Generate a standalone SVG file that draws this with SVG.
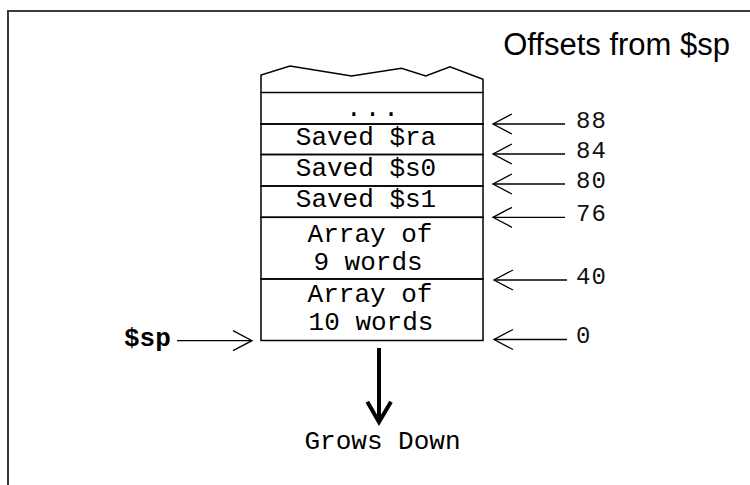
<svg xmlns="http://www.w3.org/2000/svg" width="750" height="485" viewBox="0 0 750 485">
  <style>
    .frame { fill: none; stroke: #3a3a3a; stroke-width: 2; }
    .cell { fill: none; stroke: #000; stroke-width: 1.5; }
    .mono { font-family: "Liberation Mono", "DejaVu Sans Mono", monospace; font-size: 26px; fill: #000; }
    .off { font-family: "Liberation Mono", "DejaVu Sans Mono", monospace; font-size: 24px; fill: #111; letter-spacing: 1px; }
    .title { font-family: "Liberation Sans", Arial, sans-serif; font-size: 31px; fill: #000; }
    .ptr { fill: none; stroke: #000; stroke-width: 1.3; }
  </style>
  <defs>
    <marker id="openHead" markerUnits="userSpaceOnUse" markerWidth="30" markerHeight="30" refX="0" refY="0" orient="auto" overflow="visible">
      <path d="M -19 -10 L 0 0 L -19 10" fill="none" stroke="#000" stroke-width="1.3"/>
    </marker>
  </defs>

  <rect width="750" height="485" fill="#fff"/>
  <rect class="frame" x="8" y="11" width="800" height="600"/>

  <text id="title" class="title" x="730" y="55" text-anchor="end">Offsets from $sp</text>

  <!-- stack frame cells -->
  <g id="stack-top">
    <path class="cell" d="M261 92.5 V75 L290 66 L351.5 76 L401.5 68.3 L425.7 76 L450 66.7 L483 79.3 V92.5"/>
  </g>
  <g id="cell-more">
    <rect class="cell" x="261" y="92.5" width="222" height="31.5"/>
    <text class="mono" x="374" y="116" text-anchor="middle" letter-spacing="3">...</text>
  </g>
  <g id="cell-ra">
    <rect class="cell" x="261" y="124" width="222" height="30.5"/>
    <text class="mono" x="366" y="144.5" text-anchor="middle">Saved $ra</text>
  </g>
  <g id="cell-s0">
    <rect class="cell" x="261" y="154.5" width="222" height="31.5"/>
    <text class="mono" x="366" y="175.5" text-anchor="middle">Saved $s0</text>
  </g>
  <g id="cell-s1">
    <rect class="cell" x="261" y="186" width="222" height="31.3"/>
    <text class="mono" x="366" y="206.5" text-anchor="middle">Saved $s1</text>
  </g>
  <g id="cell-array9">
    <rect class="cell" x="261" y="217.3" width="222" height="61.7"/>
    <text class="mono" x="370" y="241.5" text-anchor="middle">Array of</text>
    <text class="mono" x="368" y="269.5" text-anchor="middle">9 words</text>
  </g>
  <g id="cell-array10">
    <rect class="cell" x="261" y="279" width="222" height="61.5"/>
    <text class="mono" x="370" y="302" text-anchor="middle">Array of</text>
    <text class="mono" x="371" y="330" text-anchor="middle">10 words</text>
  </g>

  <!-- offset labels -->
  <g id="offsets">
    <text class="off" x="576" y="127.5">88</text>
    <text class="off" x="576" y="157.5">84</text>
    <text class="off" x="576" y="187.5">80</text>
    <text class="off" x="576" y="220.5">76</text>
    <text class="off" x="576" y="283.5">40</text>
    <text class="off" x="576" y="343">0</text>
  </g>

  <g id="sp-label">
    <text class="mono" x="124" y="346" font-weight="bold">$sp</text>
  </g>

  <g id="grows-label">
    <text class="mono" x="382.5" y="448.5" text-anchor="middle">Grows Down</text>
  </g>

  <!-- connectors -->
  <g id="connectors">
    <line class="ptr" x1="565" y1="124" x2="493" y2="124" marker-end="url(#openHead)"/>
    <line class="ptr" x1="565" y1="154" x2="493" y2="154" marker-end="url(#openHead)"/>
    <line class="ptr" x1="565" y1="184" x2="493" y2="184" marker-end="url(#openHead)"/>
    <line class="ptr" x1="565" y1="217.3" x2="493" y2="217.3" marker-end="url(#openHead)"/>
    <line class="ptr" x1="567" y1="280" x2="494" y2="280" marker-end="url(#openHead)"/>
    <line class="ptr" x1="567" y1="339.5" x2="494" y2="339.5" marker-end="url(#openHead)"/>
    <line class="ptr" x1="177" y1="340.7" x2="252" y2="340.7" marker-end="url(#openHead)"/>
    <path d="M379 348 V422 M367.3 401.7 L379 422 L391 401.7" fill="none" stroke="#000" stroke-width="4" stroke-linejoin="miter" stroke-linecap="butt"/>
  </g>
</svg>
